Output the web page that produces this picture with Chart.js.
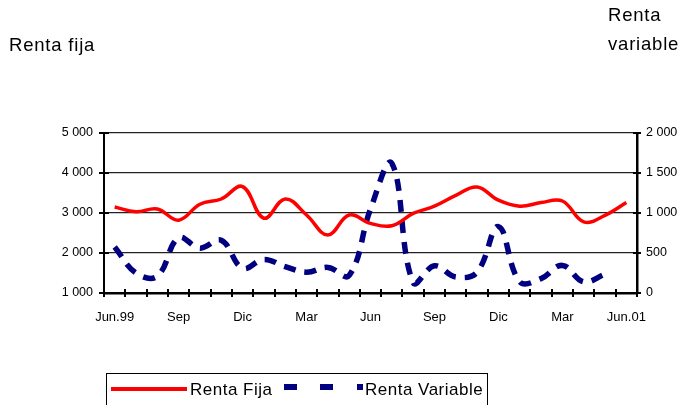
<!DOCTYPE html>
<html>
<head>
<meta charset="utf-8">
<script src="https://cdn.jsdelivr.net/npm/chart.js@4/dist/chart.umd.min.js"></script>
<style>
  body { margin: 0; background: #fff; }
  #wrap { position: relative; width: 685px; height: 405px; overflow: hidden; font-family: "Liberation Sans", Arial, sans-serif; }
  .lbl { position: absolute; white-space: nowrap; color: #000; }
  .ttl { font-size: 18.5px; line-height: 18.5px; letter-spacing: 0.8px; }
  .leg { font-size: 17px; line-height: 17px; letter-spacing: 0.5px; }
  #legbox { position: absolute; left: 106px; top: 373px; width: 382px; height: 60px; border: 1.5px solid #000; box-sizing: border-box; }
  .swatch { position: absolute; }
</style>
</head>
<body>
<div id="wrap">
  <canvas id="chart" width="685" height="405"></canvas>
  <div class="lbl ttl" style="left:9px; top:36px;">Renta fija</div>
  <div class="lbl ttl" style="left:608px; top:6px;">Renta</div>
  <div class="lbl ttl" style="left:608px; top:35px;">variable</div>
  <div id="legbox"></div>
  <div class="swatch" style="left:111px; top:387px; width:76px; height:4px; background:#ff0000;"></div>
  <div class="lbl leg" style="left:190px; top:381px;">Renta Fija</div>
  <div class="swatch" style="left:284px; top:384px; width:13px; height:6px; background:#000080;"></div>
  <div class="swatch" style="left:320px; top:384px; width:13px; height:6px; background:#000080;"></div>
  <div class="swatch" style="left:357px; top:384px; width:6px; height:6px; background:#000080;"></div>
  <div class="lbl leg" style="left:365px; top:381px;">Renta Variable</div>
</div>
<script>
// monthly categories, Jun.99 .. Jun.01
const months = ['Jun.99', 'Jul', 'Ago', 'Sep', 'Oct', 'Nov', 'Dic', 'Ene', 'Feb', 'Mar', 'Abr', 'May',
                'Jun', 'Jul', 'Ago', 'Sep', 'Oct', 'Nov', 'Dic', 'Ene', 'Feb', 'Mar', 'Abr', 'May', 'Jun.01'];

// left axis
const rentaFija = [3150, 3030, 3100, 2820, 3220, 3350, 3660, 2870, 3350, 2950, 2450, 2950,
                   2740, 2680, 2990, 3170, 3440, 3650, 3320, 3170, 3260, 3300, 2780, 2940, 3260];

// right axis
const rentaVariable = [575, 250, 210, 690, 560, 660, 310, 420, 330, 260, 320, 220,
                       1050, 1620, 130, 340, 200, 260, 830, 140, 180, 345, 140, 235, null];

const leftTicks = [1000, 2000, 3000, 4000, 5000];
const rightTicks = [0, 500, 1000, 1500, 2000];

// "5 000" style thousands
function fmt(v) {
    if (v >= 1000) return Math.floor(v / 1000) + ' ' + String(v % 1000).padStart(3, '0');
    return String(v);
}

// tick marks that cross the axis lines
const crossTicks = {
    id: 'crossTicks',
    afterDraw(chart) {
        const ctx = chart.ctx;
        const x = chart.scales.x, y = chart.scales.y, y1 = chart.scales.y1;
        ctx.save();
        ctx.strokeStyle = '#000';
        ctx.lineWidth = 2;
        ctx.beginPath();
        for (let i = 0; i <= months.length; i++) {
            const px = Math.round(x.getPixelForValue(i - 0.5));
            ctx.moveTo(px, x.top - 4);
            ctx.lineTo(px, x.top + 4);
        }
        leftTicks.forEach(v => {
            const py = Math.round(y.getPixelForValue(v));
            ctx.moveTo(y.right - 5, py);
            ctx.lineTo(y.right + 5, py);
        });
        rightTicks.forEach(v => {
            const py = Math.round(y1.getPixelForValue(v));
            ctx.moveTo(y1.left - 4, py);
            ctx.lineTo(y1.left + 4, py);
        });
        ctx.stroke();
        ctx.restore();
    }
};

const ctx = document.getElementById('chart').getContext('2d');
new Chart(ctx, {
    type: 'line',
    data: {
        labels: months,
        datasets: [{
            label: 'Renta Fija',
            data: rentaFija,
            yAxisID: 'y',
            borderColor: '#ff0000',
            borderWidth: 3.5,
            pointRadius: 0,
            tension: 0.4,
            fill: false
        }, {
            label: 'Renta Variable',
            data: rentaVariable,
            yAxisID: 'y1',
            borderColor: '#000080',
            borderWidth: 5.5,
            borderDash: [12, 9],
            borderCapStyle: 'butt',
            pointRadius: 0,
            tension: 0.4,
            fill: false
        }]
    },
    options: {
        responsive: false,
        animation: false,
        devicePixelRatio: 1,
        layout: { padding: { top: 133, left: 0, right: 0, bottom: 0 } },
        plugins: { legend: { display: false }, tooltip: { enabled: false } },
        scales: {
            x: {
                offset: true,
                grid: { offset: true, drawOnChartArea: false, drawTicks: false },
                border: { color: '#000', width: 2.5 },
                ticks: {
                    autoSkip: false,
                    maxRotation: 0,
                    padding: 17,
                    color: '#000',
                    font: { family: 'Liberation Sans', size: 13 },
                    callback: (v, i) => (i % 3 === 0 ? months[i] : '')
                },
                afterFit: s => { s.height = 112; }
            },
            y: {
                position: 'left',
                min: 1000,
                max: 5000,
                afterBuildTicks: s => { s.ticks = leftTicks.map(v => ({ value: v })); },
                grid: { color: '#222', lineWidth: 1.3, drawTicks: false },
                border: { color: '#000', width: 2 },
                ticks: {
                    padding: 11,
                    color: '#000',
                    font: { family: 'Liberation Sans', size: 12.5 },
                    callback: v => fmt(v)
                },
                afterFit: s => { s.width = 104; }
            },
            y1: {
                position: 'right',
                min: 0,
                max: 2000,
                afterBuildTicks: s => { s.ticks = rightTicks.map(v => ({ value: v })); },
                grid: { drawOnChartArea: false, drawTicks: false },
                border: { color: '#000', width: 2.5 },
                ticks: {
                    padding: 9,
                    color: '#000',
                    font: { family: 'Liberation Sans', size: 12.5 },
                    callback: v => fmt(v)
                },
                afterFit: s => { s.width = 48; }
            }
        }
    },
    plugins: [crossTicks]
});
</script>
</body>
</html>
